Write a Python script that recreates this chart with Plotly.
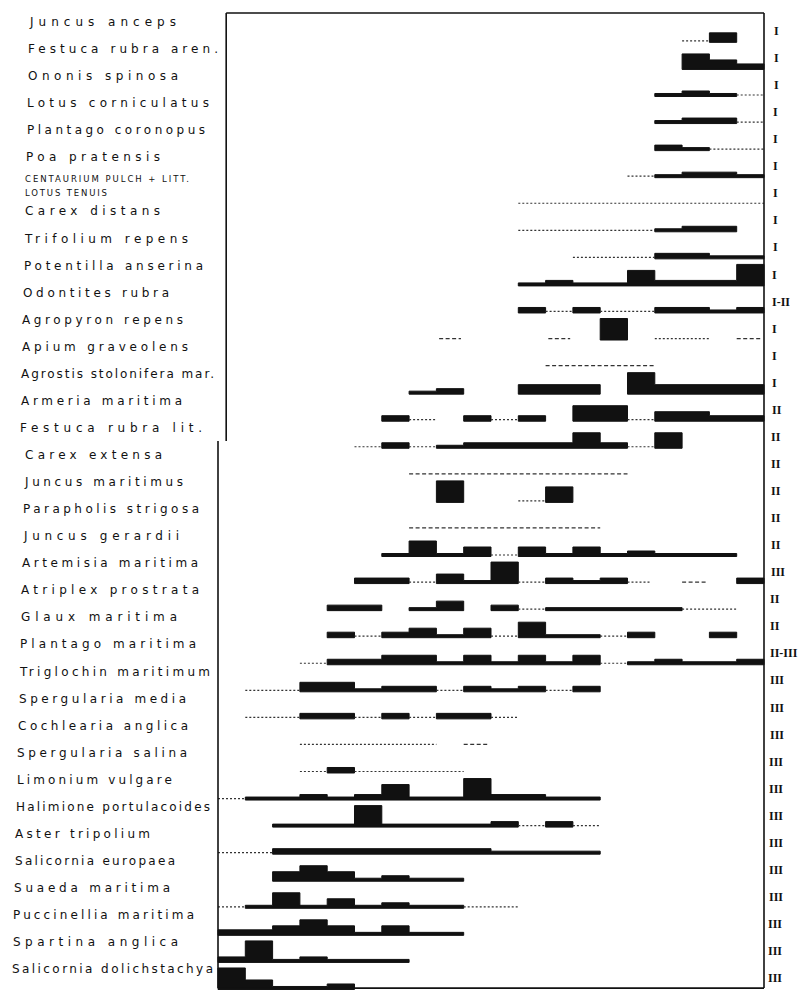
import json
import plotly.graph_objects as go

# ---------------- data ----------------
species = [
    "Juncus anceps", "Festuca rubra aren.", "Ononis spinosa", "Lotus corniculatus",
    "Plantago coronopus", "Poa pratensis", "CENTAURIUM PULCH + LITT. / LOTUS TENUIS",
    "Carex distans", "Trifolium repens", "Potentilla anserina", "Odontites rubra",
    "Agropyron repens", "Apium graveolens", "Agrostis stolonifera mar.", "Armeria maritima",
    "Festuca rubra lit.", "Carex extensa", "Juncus maritimus", "Parapholis strigosa",
    "Juncus gerardii", "Artemisia maritima", "Atriplex prostrata", "Glaux maritima",
    "Plantago maritima", "Triglochin maritimum", "Spergularia media", "Cochlearia anglica",
    "Spergularia salina", "Limonium vulgare", "Halimione portulacoides", "Aster tripolium",
    "Salicornia europaea", "Suaeda maritima", "Puccinellia maritima", "Spartina anglica",
    "Salicornia dolichstachya",
]

zones = (["I"] * 10
         + ["I-II", "I", "I", "I", "II", "II", "II", "II", "II", "II", "III", "II", "II", "II-III"]
         + ["III"] * 12)

# occurrence along the 20 sample columns: (from, to, cover)
# cover: 1..5 = abundance class, "dot" = sparse, "dash" = very sparse
segments = [
    [(17, 18, "dot"), (18, 19, 3)],
    [(17, 18, 4), (18, 19, 3), (19, 20, 2)],
    [(16, 17, 1), (17, 18, 2), (18, 19, 1), (19, 20, "dot")],
    [(16, 17, 1), (17, 19, 2), (19, 20, "dot")],
    [(16, 17, 2), (17, 18, 1), (18, 20, "dot")],
    [(15, 16, "dot"), (16, 17, 1), (17, 19, 2), (19, 20, 1)],
    [(11, 20, "dot")],
    [(11, 16, "dot"), (16, 17, 1), (17, 19, 2)],
    [(13, 16, "dot"), (16, 18, 2), (18, 20, 1)],
    [(11, 12, 1), (12, 13, 2), (13, 15, 1), (15, 16, 4), (16, 19, 2), (19, 20, 5)],
    [(11, 12, 2), (12, 13, "dot"), (13, 14, 2), (14, 16, "dot"), (16, 18, 2), (18, 19, 1), (19, 20, 2)],
    [(8.1, 8.9, "dash"), (12.1, 12.9, "dash"), (14, 15, 5), (16, 18, "dot"), (19, 19.9, "dash")],
    [(12, 16, "dash")],
    [(7, 8, 1), (8, 9, 2), (11, 14, 3), (15, 16, 5), (16, 20, 3)],
    [(6, 7, 2), (7, 8, "dot"), (9, 10, 2), (10, 11, "dot"), (11, 12, 2), (13, 15, 4),
     (15, 16, "dot"), (16, 18, 3), (18, 20, 2)],
    [(5, 6, "dot"), (6, 7, 2), (7, 8, "dot"), (8, 9, 1), (9, 13, 2), (13, 14, 4), (14, 15, 2),
     (15, 16, "dot"), (16, 17, 4)],
    [(7, 15, "dash")],
    [(8, 9, 5), (11, 12, "dot"), (12, 13, 4)],
    [(7, 14, "dash")],
    [(6, 7, 1), (7, 8, 4), (8, 9, 1), (9, 10, 3), (10, 11, "dot"), (11, 12, 3), (12, 13, 1),
     (13, 14, 3), (14, 15, 1), (15, 16, 2), (16, 19, 1)],
    [(5, 7, 2), (7, 8, "dot"), (8, 9, 3), (9, 10, 1), (10, 11, 5), (11, 12, "dot"), (12, 13, 2),
     (13, 14, 1), (14, 15, 2), (15, 15.85, "dot"), (17, 17.9, "dash"), (19, 20, 2)],
    [(4, 6, 2), (7, 8, 1), (8, 9, 3), (10, 11, 2), (11, 12, "dot"), (12, 17, 1), (17, 19, "dot")],
    [(4, 5, 2), (5, 6, "dot"), (6, 7, 2), (7, 8, 3), (8, 9, 1), (9, 10, 3), (10, 11, "dot"),
     (11, 12, 4), (12, 14, 1), (14, 15, "dot"), (15, 16, 2), (18, 19, 2)],
    [(3, 4, "dot"), (4, 6, 2), (6, 8, 3), (8, 9, 1), (9, 10, 3), (10, 11, 1), (11, 12, 3),
     (12, 13, 1), (13, 14, 3), (14, 15, "dot"), (15, 16, 1), (16, 17, 2), (17, 19, 1), (19, 20, 2)],
    [(1, 3, "dot"), (3, 5, 3), (5, 6, 1), (6, 8, 2), (8, 9, "dot"), (9, 10, 2), (10, 11, 1),
     (11, 12, 2), (12, 13, "dot"), (13, 14, 2)],
    [(1, 3, "dot"), (3, 5, 2), (5, 6, "dot"), (6, 7, 2), (7, 8, "dot"), (8, 10, 2), (10, 11, "dot")],
    [(3, 8, "dot"), (9, 9.9, "dash")],
    [(3, 4, "dot"), (4, 5, 2), (5, 9, "dot")],
    [(0, 1, "dot"), (1, 3, 1), (3, 4, 2), (4, 5, 1), (5, 6, 2), (6, 7, 4), (7, 9, 1), (9, 10, 5),
     (10, 12, 2), (12, 14, 1)],
    [(2, 5, 1), (5, 6, 5), (6, 10, 1), (10, 11, 2), (11, 12, "dot"), (12, 13, 2), (13, 14, "dot")],
    [(0, 2, "dot"), (2, 10, 2), (10, 14, 1)],
    [(2, 3, 3), (3, 4, 4), (4, 5, 3), (5, 6, 1), (6, 7, 2), (7, 9, 1)],
    [(0, 1, "dot"), (1, 2, 1), (2, 3, 4), (3, 4, 1), (4, 5, 3), (5, 6, 1), (6, 7, 2), (7, 9, 1),
     (9, 11, "dot")],
    [(0, 2, 2), (2, 3, 3), (3, 4, 4), (4, 5, 3), (5, 6, 1), (6, 7, 3), (7, 9, 1)],
    [(0, 1, 2), (1, 2, 5), (2, 3, 1), (3, 4, 2), (4, 7, 1)],
    [(0, 1, 5), (1, 2, 3), (2, 4, 1), (4, 5, 2)],
]

# ---------------- style / geometry ----------------
W, H = 805, 993
ML, MR, MT, MB = 214, 37, 9, 2
COL_PX = 27.3          # width of one sample column
ROW_PX = 27.06         # height of one species row
X0_PX = 218            # pixel of column 0
ROW1_PX = 31           # pixel of first row centre
CLASS_PX = {1: 3, 2: 5.5, 3: 9.5, 4: 15.5, 5: 21.5}
BASE = 0.42            # bar baseline offset (rows) below row centre
INK = "#111111"

plot_w = W - ML - MR
plot_h = H - MT - MB
x_lo = -(X0_PX - ML) / COL_PX
x_hi = x_lo + plot_w / COL_PX
y_top = 1 - (ROW1_PX - MT) / ROW_PX
y_bot = y_top + plot_h / ROW_PX
frame_top = 1 - (ROW1_PX - 13) / ROW_PX
frame_bot = 36 + 10 / ROW_PX
jog_row = 16.15


def px_to_paper(xpx):
    return (xpx - ML) / plot_w


# label text widths (px) as lettered in the original
label_widths = [146, 190, 150, 182, 178, 134, 164, 82, 135, 163, 179, 146, 161, 166, 193, 161,
                182, 137, 158, 176, 155, 176, 178, 156, 176, 190, 167, 170, 170, 155, 194, 135,
                160, 156, 181, 165, 201]

# ---------------- build marks ----------------
poly_x, poly_y = [], []
dot_x, dot_y, dash_x, dash_y = [], [], [], []


def flush(run, base):
    if not run:
        return
    xs = [run[0][0], run[-1][1]]
    ys = [base, base]
    for s, e, c in reversed(run):
        top = base - CLASS_PX[c] / ROW_PX
        xs += [e, s]
        ys += [top, top]
    xs.append(run[0][0])
    ys.append(base)
    poly_x.extend(xs + [None])
    poly_y.extend(ys + [None])


for k, segs in enumerate(segments, start=1):
    base = k + BASE
    run = []
    for s, e, c in segs:
        if isinstance(c, int):
            if run and abs(run[-1][1] - s) < 1e-9:
                run.append((s, e, c))
            else:
                flush(run, base)
                run = [(s, e, c)]
        else:
            flush(run, base)
            run = []
            yl = base - 1.5 / ROW_PX
            if c == "dot":
                dot_x.extend([s, e, None]); dot_y.extend([yl, yl, None])
            else:
                dash_x.extend([s, e, None]); dash_y.extend([yl, yl, None])
    flush(run, base)

fig = go.Figure()
fig.add_trace(go.Scatter(x=poly_x, y=poly_y, mode="lines", fill="toself", fillcolor=INK,
                         line=dict(color=INK, width=1), hoverinfo="skip", showlegend=False))
fig.add_trace(go.Scatter(x=dot_x, y=dot_y, mode="lines",
                         line=dict(color="#333333", width=1.2, dash="2px,2px"),
                         hoverinfo="skip", showlegend=False))
fig.add_trace(go.Scatter(x=dash_x, y=dash_y, mode="lines",
                         line=dict(color="#333333", width=1.3, dash="4px,2.5px"),
                         hoverinfo="skip", showlegend=False))

# frame
frame = dict(type="line", xref="x", yref="y", line=dict(color=INK, width=1.6))
shapes = [
    dict(frame, x0=0.3, x1=20, y0=frame_top, y1=frame_top),
    dict(frame, x0=0, x1=20, y0=frame_bot, y1=frame_bot),
    dict(frame, x0=20, x1=20, y0=frame_top, y1=frame_bot),
    dict(frame, x0=0.3, x1=0.3, y0=frame_top, y1=jog_row),
    dict(frame, x0=0, x1=0, y0=jog_row, y1=frame_bot),
]

annotations = []
# species labels
for k, name in enumerate(species, start=1):
    if k <= 16:
        xpx = 28 - 0.6 * (k - 1)
    else:
        xpx = 23.5 - 0.65 * (k - 17)
    xp = px_to_paper(xpx)
    if " / " in name:
        parts = name.split(" / ")
        for j, p in enumerate(parts):
            annotations.append(dict(x=xp, y=k - 0.52 + 0.52 * j, text=p, xref="paper", yref="y",
                                    xanchor="left", yanchor="middle", align="left", showarrow=False,
                                    borderpad=0,
                                    font=dict(family="DejaVu Sans", size=8.5, color=INK)))
    else:
        annotations.append(dict(x=xp, y=k - 0.33, text=name, xref="paper", yref="y",
                                xanchor="left", yanchor="middle", align="left", showarrow=False,
                                borderpad=0,
                                font=dict(family="DejaVu Sans", size=12, color=INK)))
# zone numerals
for k, z in enumerate(zones, start=1):
    xpx = 773 - 6 * (k - 1) / 35
    annotations.append(dict(x=px_to_paper(xpx), y=k, text=z, xref="paper", yref="y",
                            xanchor="left", yanchor="middle", align="left", showarrow=False,
                            borderpad=0,
                            font=dict(family="Liberation Serif", size=12, color=INK, weight="bold")))

fig.update_layout(
    width=W, height=H, autosize=False,
    margin=dict(l=ML, r=MR, t=MT, b=MB),
    paper_bgcolor="white", plot_bgcolor="white",
    xaxis=dict(range=[x_lo, x_hi], visible=False, fixedrange=True),
    yaxis=dict(range=[y_bot, y_top], visible=False, fixedrange=True),
    shapes=shapes, annotations=annotations, hovermode=False,
)

post = """
document.body.style.margin = '0';
var gd = document.getElementById('{plot_id}');
var W = %s;
W.forEach(function(w, i) {
  var t = gd.querySelector('.annotation[data-index="' + i + '"] text.annotation-text');
  if (t) { t.setAttribute('textLength', w); t.setAttribute('lengthAdjust', 'spacing'); }
});
""" % json.dumps(label_widths)

fig.write_html("out.html", config={"displayModeBar": False, "responsive": False},
               post_script=post)
